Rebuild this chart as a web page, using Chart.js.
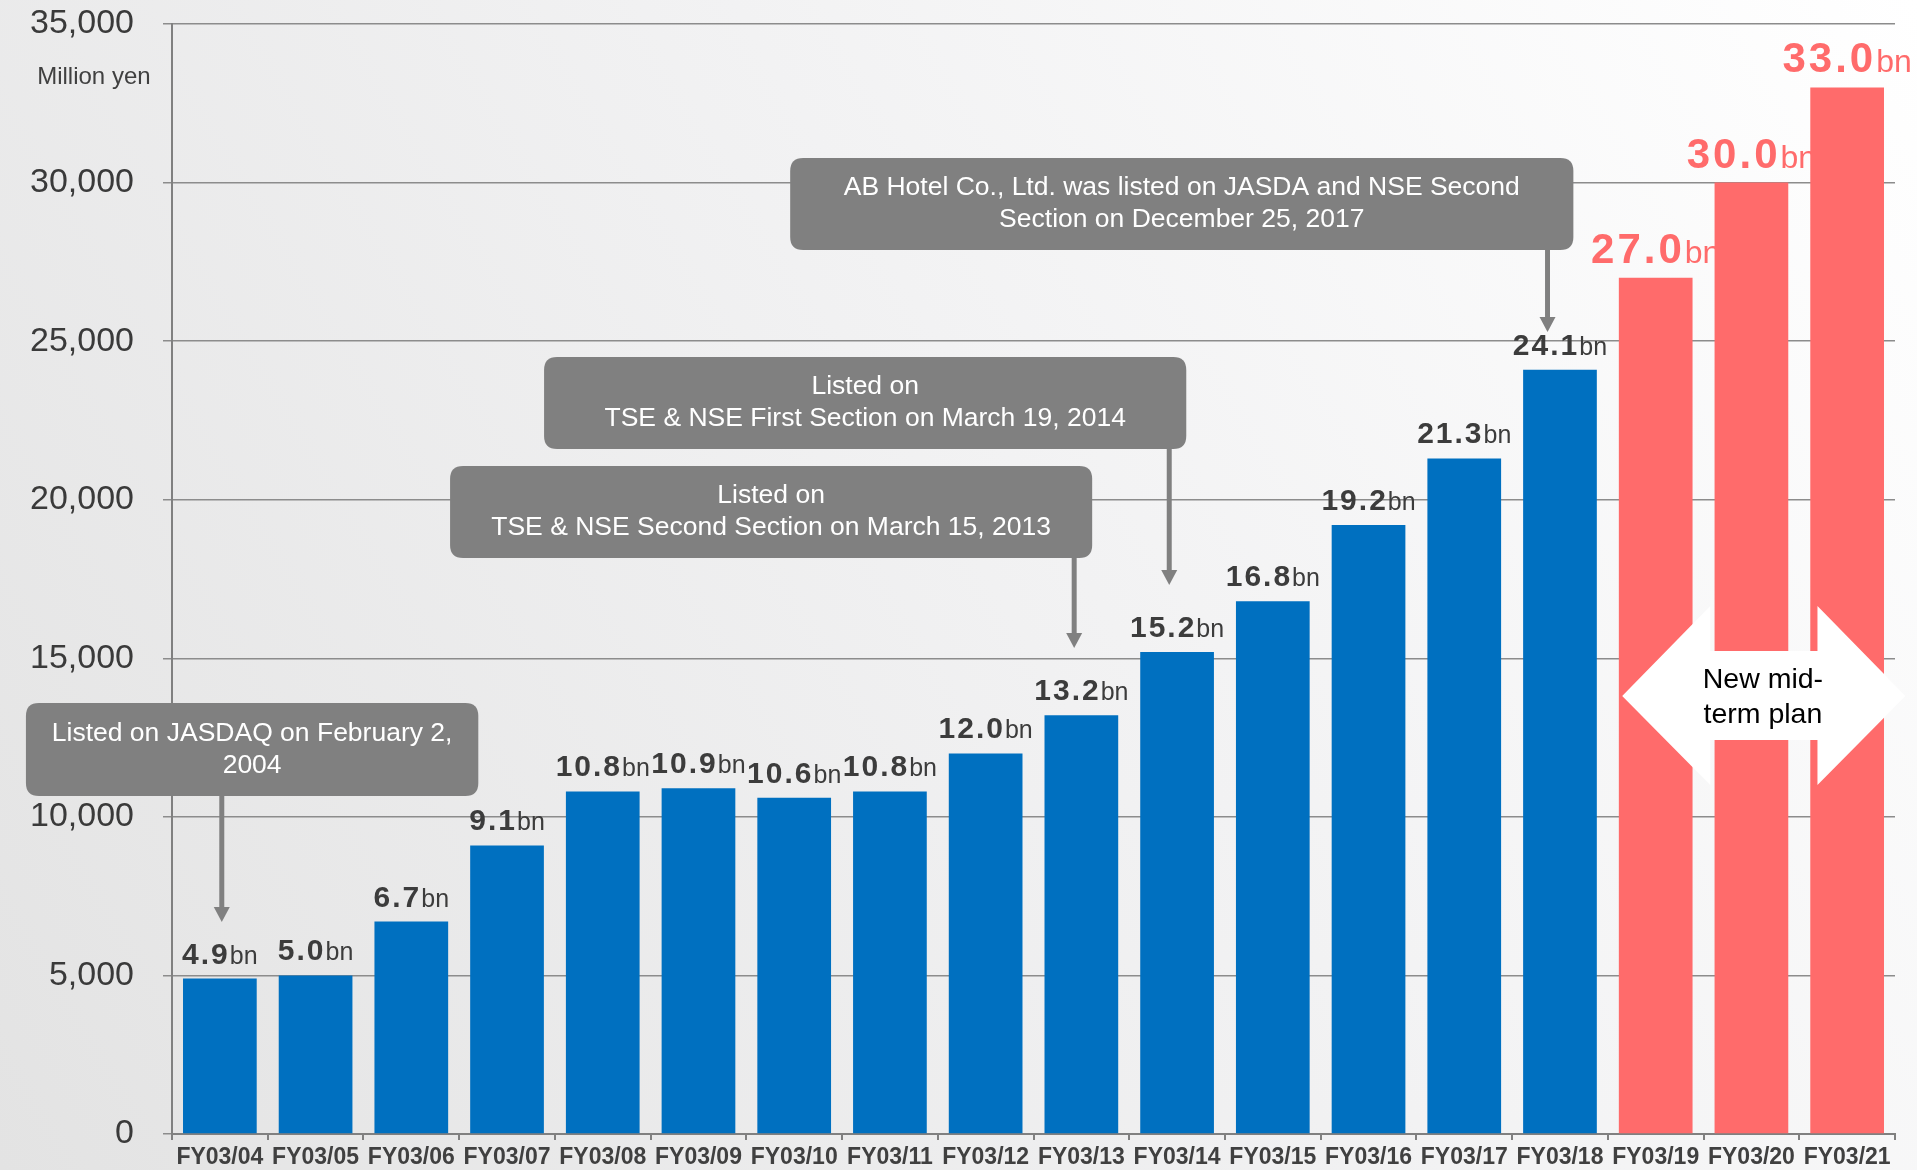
<!DOCTYPE html>
<html>
<head>
<meta charset="utf-8">
<script src="https://cdn.jsdelivr.net/npm/chart.js@4/dist/chart.umd.min.js"></script>
<style>
  html, body { margin: 0; padding: 0; background: #eeeeee; }
  #wrap { width: 1917px; height: 1170px; position: relative; }
  canvas { display: block; }
</style>
</head>
<body>
<div id="wrap"><canvas id="c" width="1917" height="1170"></canvas></div>
<script>
// ---- Data (million yen) ----
const categories = ['FY03/04','FY03/05','FY03/06','FY03/07','FY03/08','FY03/09','FY03/10','FY03/11','FY03/12','FY03/13','FY03/14','FY03/15','FY03/16','FY03/17','FY03/18','FY03/19','FY03/20','FY03/21'];
const actualValues = [4900, 5000, 6700, 9100, 10800, 10900, 10600, 10800, 12000, 13200, 15200, 16800, 19200, 21300, 24100];
const planValues = [27000, 30000, 33000];
const yTicks = [0, 5000, 10000, 15000, 20000, 25000, 30000, 35000];
const unitLabel = 'Million yen';
const planLabel = ['New mid-', 'term plan'];
const callouts = [
  { lines: ['Listed on JASDAQ on February 2,', '2004'], x0: -2.026, x1: 2.70, yTop: 13590, yBot: 10658, ax: 0.02, tip: 6685 },
  { lines: ['Listed on', 'TSE & NSE Second Section on March 15, 2013'], x0: 2.405, x1: 9.113, yTop: 21063, yBot: 18162, ax: 8.925, tip: 15325 },
  { lines: ['Listed on', 'TSE & NSE First Section on March 19, 2014'], x0: 3.387, x1: 10.096, yTop: 24500, yBot: 21600, ax: 9.918, tip: 17311 },
  { lines: ['AB Hotel Co., Ltd. was listed on JASDA and NSE Second', 'Section on December 25, 2017'], x0: 5.958, x1: 14.14, yTop: 30775, yBot: 27874, ax: 13.87, tip: 25289 }
];

const allValues = actualValues.concat(planValues);
const BLUE = '#0070C0';
const RED = '#FF6B6B';
const barColors = allValues.map((v, i) => i < actualValues.length ? BLUE : RED);

const bgPlugin = {
  id: 'bg',
  beforeDraw(chart) {
    const ctx = chart.ctx;
    const g = ctx.createLinearGradient(0, chart.height, chart.width, 0);
    g.addColorStop(0, '#e3e3e3');
    g.addColorStop(0.55, '#f2f2f3');
    g.addColorStop(1, '#ffffff');
    ctx.save();
    ctx.fillStyle = g;
    ctx.fillRect(0, 0, chart.width, chart.height);
    ctx.restore();
  }
};

const labelPlugin = {
  id: 'valueLabels',
  beforeDatasetsDraw(chart) {
    const ctx = chart.ctx;
    const meta = chart.getDatasetMeta(0);
    ctx.save();
    meta.data.forEach((bar, i) => {
      const v = allValues[i];
      const plan = i >= actualValues.length;
      const num = (v / 1000).toFixed(1);
      const numFont = plan ? 'bold 42px "Liberation Sans", Arial, sans-serif' : 'bold 30px "Liberation Sans", Arial, sans-serif';
      const bnFont = plan ? '32px "Liberation Sans", Arial, sans-serif' : '25px "Liberation Sans", Arial, sans-serif';
      const sp = plan ? '3px' : '2px';
      ctx.letterSpacing = sp;
      ctx.font = numFont;
      const w1 = ctx.measureText(num).width;
      ctx.letterSpacing = '0px';
      ctx.font = bnFont;
      const w2 = ctx.measureText('bn').width;
      const total = w1 + w2;
      const x0 = bar.x - total / 2;
      const y = bar.y - 15;
      ctx.fillStyle = plan ? RED : '#3c3c3c';
      ctx.textAlign = 'left';
      ctx.textBaseline = 'alphabetic';
      ctx.letterSpacing = sp;
      ctx.font = numFont;
      ctx.fillText(num, x0, y);
      ctx.letterSpacing = '0px';
      ctx.font = bnFont;
      ctx.fillText('bn', x0 + w1, y);
    });
    ctx.restore();
  }
};

function roundRect(ctx, x, y, w, h, r) {
  ctx.beginPath();
  ctx.moveTo(x + r, y);
  ctx.lineTo(x + w - r, y);
  ctx.quadraticCurveTo(x + w, y, x + w, y + r);
  ctx.lineTo(x + w, y + h - r);
  ctx.quadraticCurveTo(x + w, y + h, x + w - r, y + h);
  ctx.lineTo(x + r, y + h);
  ctx.quadraticCurveTo(x, y + h, x, y + h - r);
  ctx.lineTo(x, y + r);
  ctx.quadraticCurveTo(x, y, x + r, y);
  ctx.closePath();
}

const annoPlugin = {
  id: 'annotations',
  afterDatasetsDraw(chart) {
    const ctx = chart.ctx;
    const xs = chart.scales.x, ys = chart.scales.y;
    const px = v => xs.getPixelForValue(v);
    const py = v => ys.getPixelForValue(v);
    ctx.save();
    // unit label
    ctx.fillStyle = '#404040';
    ctx.font = '24px "Liberation Sans", Arial, sans-serif';
    ctx.textAlign = 'center';
    ctx.textBaseline = 'middle';
    ctx.fillText(unitLabel, px(-1.316), py(33330));

    // callouts
    callouts.forEach(c => {
      const x0 = px(c.x0), x1 = px(c.x1), y0 = py(c.yTop), y1 = py(c.yBot);
      const ax = px(c.ax), tipY = py(c.tip);
      ctx.strokeStyle = '#808080';
      ctx.fillStyle = '#808080';
      ctx.lineWidth = 5;
      ctx.beginPath();
      ctx.moveTo(ax, y1 - 2);
      ctx.lineTo(ax, tipY - 14);
      ctx.stroke();
      ctx.beginPath();
      ctx.moveTo(ax - 8, tipY - 15);
      ctx.lineTo(ax + 8, tipY - 15);
      ctx.lineTo(ax, tipY);
      ctx.closePath();
      ctx.fill();
      roundRect(ctx, x0, y0, x1 - x0, y1 - y0, 13);
      ctx.fillStyle = '#808080';
      ctx.fill();
      ctx.fillStyle = '#ffffff';
      ctx.font = '26.5px "Liberation Sans", Arial, sans-serif';
      ctx.textAlign = 'center';
      ctx.textBaseline = 'middle';
      const cx = (x0 + x1) / 2, cy = (y0 + y1) / 2;
      const lh = 32;
      c.lines.forEach((t, k) => {
        ctx.fillText(t, cx, cy + (k - (c.lines.length - 1) / 2) * lh);
      });
    });

    // double arrow for new mid-term plan
    const lt = px(14.65), lb = px(15.57), rb = px(16.69), rt = px(17.61);
    const yc = py(13811), hTop = py(16649), hBot = py(11005), bTop = py(15230), bBot = py(12424);
    ctx.fillStyle = '#ffffff';
    ctx.beginPath();
    ctx.moveTo(lt, yc);
    ctx.lineTo(lb, hTop);
    ctx.lineTo(lb, bTop);
    ctx.lineTo(rb, bTop);
    ctx.lineTo(rb, hTop);
    ctx.lineTo(rt, yc);
    ctx.lineTo(rb, hBot);
    ctx.lineTo(rb, bBot);
    ctx.lineTo(lb, bBot);
    ctx.lineTo(lb, hBot);
    ctx.closePath();
    ctx.fill();
    ctx.fillStyle = '#000000';
    ctx.font = '28.5px "Liberation Sans", Arial, sans-serif';
    ctx.textAlign = 'center';
    ctx.textBaseline = 'middle';
    ctx.fillText(planLabel[0], px(16.12), py(14316));
    ctx.fillText(planLabel[1], px(16.12), py(13212));
    ctx.restore();
  }
};

new Chart(document.getElementById('c'), {
  type: 'bar',
  data: {
    labels: categories,
    datasets: [{
      data: allValues,
      backgroundColor: barColors,
      borderWidth: 0,
      barPercentage: 0.77,
      categoryPercentage: 1.0
    }]
  },
  options: {
    responsive: false,
    animation: false,
    events: [],
    layout: { padding: { top: 24, right: 22, left: 0, bottom: 0 } },
    plugins: { legend: { display: false }, tooltip: { enabled: false } },
    scales: {
      x: {
        offset: true,
        grid: { display: true, drawOnChartArea: false, drawTicks: true, tickLength: 6, color: '#808080', lineWidth: 2, offset: true },
        border: { display: true, color: '#808080', width: 2 },
        ticks: { color: '#404040', font: { family: '"Liberation Sans", Arial, sans-serif', size: 23, weight: 'bold' }, padding: 4, maxRotation: 0, minRotation: 0, autoSkip: false },
        afterFit(scale) { scale.height = 36; scale.paddingLeft = 0; scale.paddingRight = 0; }
      },
      y: {
        min: 0, max: 35000,
        afterBuildTicks(scale) { scale.ticks = yTicks.map(v => ({ value: v })); },
        grid: { color: '#8c8c8c', lineWidth: 1.5, tickLength: 9, drawTicks: true },
        border: { display: true, color: '#808080', width: 2 },
        ticks: {
          color: '#3a3a3a',
          font: { family: '"Liberation Sans", Arial, sans-serif', size: 34 },
          padding: 29,
          callback: v => v.toLocaleString('en-US')
        },
        afterFit(scale) { scale.width = 172; scale.paddingTop = 0; scale.paddingBottom = 0; }
      }
    }
  },
  plugins: [bgPlugin, labelPlugin, annoPlugin]
});
</script>
</body>
</html>
